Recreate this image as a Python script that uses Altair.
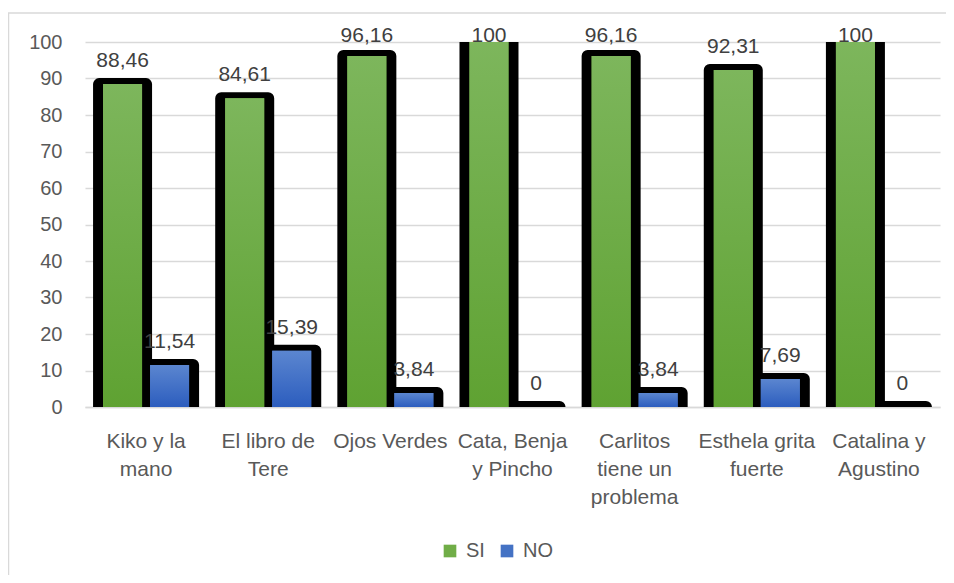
import altair as alt
import pandas as pd

categories = ["Kiko y la\nmano", "El libro de\nTere", "Ojos Verdes", "Cata, Benja\ny Pincho",
              "Carlitos\ntiene un\nproblema", "Esthela grita\nfuerte", "Catalina y\nAgustino"]
si_values = [88.46, 84.61, 96.16, 100, 96.16, 92.31, 100]
no_values = [11.54, 15.39, 3.84, 0, 3.84, 7.69, 0]
series = ["SI", "NO"]
series_colors = ["#70AD47", "#4472C4"]
y_ticks = list(range(0, 101, 10))


def fmt(v):
    return str(int(v)) if float(v).is_integer() else f"{v:.2f}".replace(".", ",")


rows = []
for c, s, n in zip(categories, si_values, no_values):
    rows.append({"cat": c, "series": "SI", "v": s, "lab": fmt(s)})
    rows.append({"cat": c, "series": "NO", "v": n, "lab": fmt(n)})
df = pd.DataFrame(rows)

x_enc = alt.X("cat:N", sort=categories,
              scale=alt.Scale(paddingInner=0.23, paddingOuter=0.115),
              axis=alt.Axis(title=None, labelExpr="split(datum.label, '\\n')", labelAngle=0,
                            labelFontSize=21, labelColor="#595959", labelLineHeight=28,
                            labelPadding=23, ticks=False, tickSize=0, domainColor="#d9d9d9",
                            domainWidth=1.5, grid=False, labelBaseline="top"))
xo_enc = alt.XOffset("series:N", sort=series, scale=alt.Scale(paddingInner=0, paddingOuter=0))
y_scale = alt.Scale(domain=[0, 100], nice=False)
y_axis = alt.Axis(title=None, values=y_ticks, ticks=False, tickSize=0, domain=False,
                  labelFontSize=20, labelColor="#595959", labelPadding=23,
                  gridColor="#d9d9d9", gridWidth=1.5)
y_enc = alt.Y("v:Q", scale=y_scale, axis=y_axis, stack=None)

base = alt.Chart(df)

frame = alt.Chart(alt.Data(values=[{"a": 1}])).mark_rect(
    fillOpacity=0, stroke="#d9d9d9", strokeWidth=1.5
).encode(x=alt.value(-76.5), x2=alt.value(1000), y=alt.value(-29), y2=alt.value(700))

shadow = base.mark_bar(color="black", stroke="black", strokeWidth=12, strokeJoin="round",
                       size=47, clip=True).encode(x=x_enc, xOffset=xo_enc, y=y_enc)

legend_layer = base.mark_bar(size=39, clip=True).encode(
    x=x_enc, xOffset=xo_enc, y=y_enc,
    color=alt.Color("series:N", sort=series, title=None,
                    scale=alt.Scale(domain=series, range=series_colors),
                    legend=alt.Legend(orient="none", legendX=355, legendY=499, direction="horizontal",
                                      symbolType="square", symbolSize=160, symbolStrokeWidth=0,
                                      labelFontSize=20, labelColor="#595959", labelOffset=6,
                                      columnPadding=12, padding=0)))

green_grad = alt.Gradient(gradient="linear",
                          stops=[alt.GradientStop(color="#7DB65C", offset=0),
                                 alt.GradientStop(color="#5FA232", offset=1)],
                          x1=0, x2=0, y1=0, y2=1)
blue_grad = alt.Gradient(gradient="linear",
                         stops=[alt.GradientStop(color="#5B86D0", offset=0),
                                alt.GradientStop(color="#2C5DBE", offset=1)],
                         x1=0, x2=0, y1=0, y2=1)

si_layer = base.mark_bar(size=39, color=green_grad, clip=True).encode(
    x=x_enc, xOffset=xo_enc, y=y_enc).transform_filter("datum.series == 'SI'")
no_layer = base.mark_bar(size=39, color=blue_grad, clip=True).encode(
    x=x_enc, xOffset=xo_enc, y=y_enc).transform_filter("datum.series == 'NO'")

labels = base.transform_calculate(ly="min(datum.v + 4.66, 100)").mark_text(
    baseline="alphabetic", align="center", fontSize=21, color="#404040"
).encode(x=x_enc, xOffset=xo_enc, y=alt.Y("ly:Q", scale=y_scale, axis=y_axis), text="lab:N")

chart = alt.layer(frame, shadow, legend_layer, si_layer, no_layer, labels).properties(
    width=855, height=365,
    autosize=alt.AutoSizeParams(type="none"),
    padding={"left": 77, "top": 34, "right": 6, "bottom": 168},
).configure(font="Liberation Sans").configure_view(strokeWidth=0)

chart.save("out.html", embed_options={"renderer": "svg", "actions": False})
